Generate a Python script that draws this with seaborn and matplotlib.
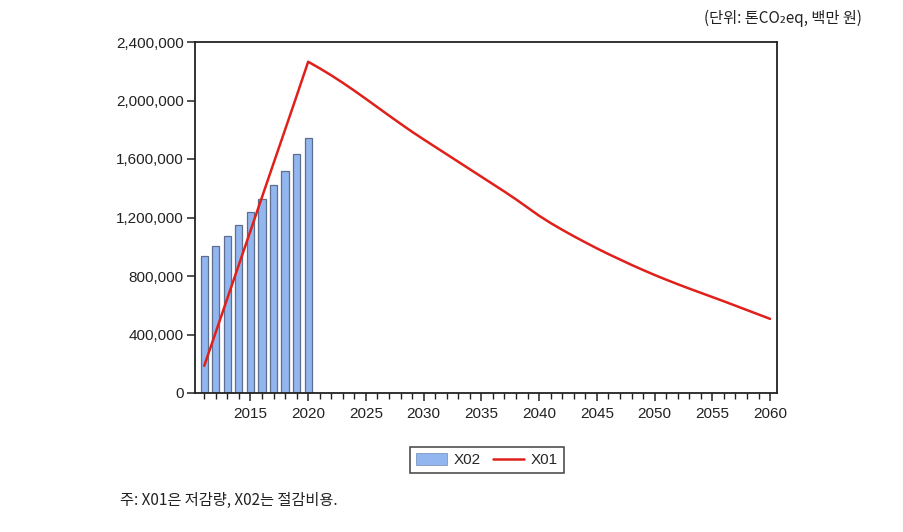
import matplotlib
matplotlib.use("Agg")
import matplotlib.pyplot as plt
import matplotlib.ticker as mticker
from matplotlib.patches import Patch
from matplotlib.lines import Line2D
import seaborn as sns
import pandas as pd

# ---- data ----
bar_years = [2011, 2012, 2013, 2014, 2015, 2016, 2017, 2018, 2019, 2020]
x02_values = [935000, 1002000, 1073000, 1151000, 1240000, 1327000, 1419000, 1515000, 1634000, 1745000]

line_years = list(range(2011, 2061))
x01_values = [
    186000, 416000, 647000, 877000, 1108000, 1339000, 1570000, 1800000, 2031000, 2265000,
    2220000, 2172000, 2121000, 2067000, 2011000, 1954000, 1897000, 1841000, 1786000, 1734000,
    1683000, 1632000, 1581000, 1530000, 1479000, 1428000, 1377000, 1324000, 1268000, 1212000,
    1162000, 1116000, 1072000, 1030000, 989000, 950000, 913000, 876000, 841000, 807000,
    775000, 744000, 714000, 685000, 656000, 627000, 597000, 567000, 537000, 507000,
]
y_ticks = [0, 400000, 800000, 1200000, 1600000, 2000000, 2400000]
x_major_ticks = [2015, 2020, 2025, 2030, 2035, 2040, 2045, 2050, 2055, 2060]
series_labels = ["X02", "X01"]
unit_text = "(단위: 톤CO₂eq, 백만 원)"
note_text = "주: X01은 저감량, X02는 절감비용."

sns.set_theme(style="white")
plt.rcParams['font.family'] = ['Liberation Sans', 'DejaVu Sans']

bar_color = "#92B7F0"
bar_edge = "#5E6F8E"
line_color = "#E0201B"

fig = plt.figure(figsize=(9.04, 5.32), dpi=100)
ax = fig.add_axes([195 / 904, 1 - 393 / 532, 582 / 904, 351 / 532])

df_bar = pd.DataFrame({"year": bar_years, "X02": x02_values})
df_line = pd.DataFrame({"year": line_years, "X01": x01_values})

sns.barplot(data=df_bar, x="year", y="X02", native_scale=True, width=0.62,
            color=bar_color, edgecolor=bar_edge, linewidth=0.9, saturation=1, ax=ax)
sns.lineplot(data=df_line, x="year", y="X01", color=line_color, linewidth=1.8, ax=ax)

ax.set_xlim(2010.2, 2060.6)
ax.set_ylim(0, 2400000)
ax.set_yticks(y_ticks)
ax.yaxis.set_major_formatter(mticker.FuncFormatter(lambda v, p: f"{int(v):,}"))
ax.set_xticks(x_major_ticks)
ax.set_xticklabels([str(y) for y in x_major_ticks])
ax.xaxis.set_minor_locator(mticker.MultipleLocator(1))
ax.set_xlabel("")
ax.set_ylabel("")

for s in ax.spines.values():
    s.set_visible(True)
    s.set_color("#222222")
    s.set_linewidth(1.3)

ax.tick_params(axis="both", which="major", direction="out", length=6, width=1.1,
               color="#222222", labelsize=11, labelcolor="#222222", pad=2, bottom=True, left=True)
ax.tick_params(axis="x", which="minor", direction="out", length=4, width=1.0,
               color="#222222", bottom=True)
ax.tick_params(axis="x", which="major", pad=4)

if ax.get_legend() is not None:
    ax.get_legend().remove()

handles = [Patch(facecolor=bar_color, edgecolor="#7F98C0", linewidth=0.6),
           Line2D([0], [0], color=line_color, linewidth=1.8)]
leg = fig.legend(handles, series_labels, loc="center", bbox_to_anchor=(487 / 904, 1 - 460 / 532),
                 ncol=2, frameon=True, fancybox=False, edgecolor="#222222", fontsize=11,
                 handlelength=2.0, handleheight=0.9, columnspacing=0.85, borderpad=0.4,
                 handletextpad=0.45)
leg.get_frame().set_linewidth(1.2)

fig.text(862 / 904, 1 - 18 / 532, unit_text, ha="right", va="center", fontsize=11,
         family=['Noto Sans CJK KR', 'DejaVu Sans'], color="#222222")
fig.text(120 / 904, 1 - 500 / 532, note_text, ha="left", va="center", fontsize=11,
         family=['Noto Sans CJK KR', 'DejaVu Sans'], color="#222222")

fig.savefig("out.png", dpi=100)
